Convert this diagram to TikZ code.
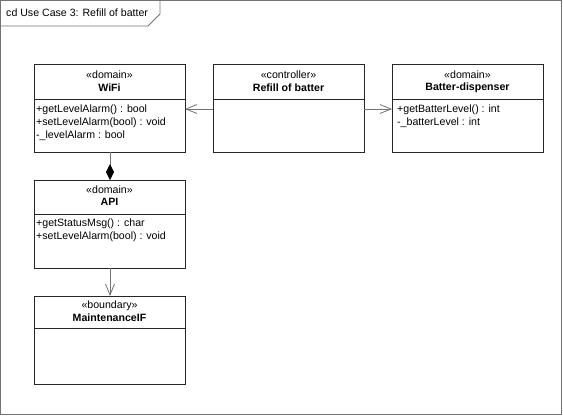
\documentclass[tikz,border=0pt]{standalone}
\usepackage{fontspec}
\setmainfont{Liberation Sans}
\usetikzlibrary{arrows.meta}
\begin{document}
\begin{tikzpicture}[x=1pt,y=-1pt,
  font=\fontsize{10.6}{12.5}\selectfont,
  frameline/.style={draw=black!55,line width=0.8pt},
  classbox/.style={draw=black!85,line width=0.8pt,fill=white},
  stereo/.style={anchor=center,inner sep=0pt},
  cname/.style={anchor=center,inner sep=0pt,font=\fontsize{10.6}{12.5}\selectfont\bfseries},
  member/.style={anchor=west,inner sep=0pt},
  link/.style={draw=black!55,line width=0.8pt},
  openarrow/.style={link,-{Straight Barb[length=11pt,width=9pt,line width=0.8pt]}},
  comp/.style={link,-{Diamond[length=16pt,width=8pt,color=black,fill=black]}}
]
\useasboundingbox (0,0) rectangle (563,416);
\fill[white] (0,0) rectangle (563,416);

% diagram frame with name tab
\draw[frameline] (0.5,0.5) rectangle (561,414);
\draw[frameline] (0.5,26) -- (148,26) -- (160,14) -- (160,0.5);
\node[member] (title) at (6,13) {cd Use Case 3: Refill of batter};

% class boxes: outline, header separator, compartment texts
% WiFi
\draw[classbox] (34,64) rectangle (185,152);
\draw[classbox] (34,99) -- (185,99);
\node[stereo] (wifiS) at (109.5,75) {«domain»};
\node[cname] (wifiN) at (109.5,88) {WiFi};
\node[member] (wifiA1) at (36,109.5) {+getLevelAlarm() : bool};
\node[member] (wifiA2) at (36,122.5) {+setLevelAlarm(bool) : void};
\node[member] (wifiA3) at (36,135.5) {-\_levelAlarm : bool};
\coordinate (wifiR) at (185,109);
\coordinate (wifiB) at (110,152);

% Refill of batter
\draw[classbox] (213,64) rectangle (364,152);
\draw[classbox] (213,99) -- (364,99);
\node[stereo] (refS) at (288.5,75) {«controller»};
\node[cname] (refN) at (288.5,88) {Refill of batter};
\coordinate (refL) at (213,109);
\coordinate (refR) at (364,109);

% Batter-dispenser
\draw[classbox] (392,64) rectangle (543,152);
\draw[classbox] (392,99) -- (543,99);
\node[stereo] (batS) at (467.5,75) {«domain»};
\node[cname] (batN) at (467.5,88) {Batter-dispenser};
\node[member] (batA1) at (397,109.5) {+getBatterLevel() : int};
\node[member] (batA2) at (397,122.5) {-\_batterLevel : int};
\coordinate (batL) at (392,109);

% API
\draw[classbox] (34,180) rectangle (185,268);
\draw[classbox] (34,214) -- (185,214);
\node[stereo] (apiS) at (109.5,190) {«domain»};
\node[cname] (apiN) at (109.5,202) {API};
\node[member] (apiA1) at (36,224) {+getStatusMsg() : char};
\node[member] (apiA2) at (36,237) {+setLevelAlarm(bool) : void};
\coordinate (apiT) at (110,180);
\coordinate (apiB) at (110,268);

% MaintenanceIF
\draw[classbox] (34,296) rectangle (185,384);
\draw[classbox] (34,328) -- (185,328);
\node[stereo] (mifS) at (109.5,306) {«boundary»};
\node[cname] (mifN) at (109.5,318) {MaintenanceIF};
\coordinate (mifT) at (110,296);

% relations
\draw[openarrow] (refL) -- (wifiR);
\draw[openarrow] (refR) -- (batL);
\draw[comp] (wifiB) -- (apiT);
\draw[openarrow] (apiB) -- (mifT);
\end{tikzpicture}
\end{document}
